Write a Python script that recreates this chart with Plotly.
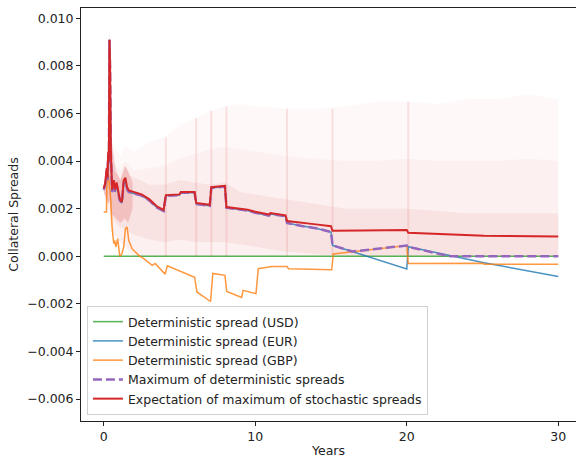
import plotly.graph_objects as go

# ---------------- data ----------------
years_usd = [0, 30]
usd_spread = [0.0, 0.0]

red_x = [0, 0.1, 0.2, 0.25, 0.3, 0.34, 0.38, 0.42, 0.47, 0.55, 0.66, 0.75, 0.85, 0.95,
         1.06, 1.2, 1.32, 1.43, 1.54, 1.65, 2.0, 2.5, 3.0, 3.5, 3.95, 4.1, 5.0, 5.1,
         6.0, 6.1, 7.0, 7.1, 8.0, 8.1, 9.0, 9.5, 10.0, 10.9, 11.0, 11.6, 12.0, 12.1,
         13.0, 14.0, 15.0, 15.1, 17.0, 20.0, 20.1, 25.0, 25.1, 30.0]
red_y = [0.00285, 0.0031, 0.0037, 0.0033, 0.0044, 0.0040, 0.0091, 0.0080, 0.0045, 0.0028,
         0.0032, 0.0028, 0.0031, 0.0027, 0.0024, 0.00228, 0.0032, 0.0033, 0.0029, 0.00277,
         0.0027, 0.0026, 0.0024, 0.0021, 0.00195, 0.00257, 0.0026, 0.0027, 0.0027, 0.00224,
         0.00216, 0.0029, 0.00296, 0.00207, 0.0020, 0.00196, 0.00187, 0.00176, 0.00182,
         0.00177, 0.00172, 0.00148, 0.0014, 0.00134, 0.00126, 0.00107, 0.00108, 0.0011,
         0.00099, 0.00088, 0.00086, 0.00083]

eur_x = [0, 0.1, 0.2, 0.25, 0.3, 0.34, 0.38, 0.42, 0.47, 0.55, 0.66, 0.75, 0.85, 0.95,
         1.06, 1.2, 1.32, 1.43, 1.54, 1.65, 2.0, 2.5, 3.0, 3.5, 3.95, 4.1, 5.0, 5.1,
         6.0, 6.1, 7.0, 7.1, 8.0, 8.1, 9.0, 9.5, 10.0, 10.9, 11.0, 11.6, 12.0, 12.1,
         13.0, 14.0, 15.0, 15.1, 20.0, 20.1, 25.0, 25.1, 30.0]
eur_y = [0.0028, 0.0030, 0.0036, 0.0032, 0.0043, 0.0039, 0.0091, 0.0079, 0.0044, 0.0027,
         0.0031, 0.0027, 0.0030, 0.0026, 0.00235, 0.00224, 0.0031, 0.0032, 0.0028, 0.0027,
         0.00265, 0.00255, 0.00235, 0.00205, 0.0019, 0.00254, 0.00257, 0.00267, 0.00267,
         0.0022, 0.00212, 0.00287, 0.00293, 0.00204, 0.00196, 0.00192, 0.00183, 0.00171,
         0.00178, 0.00173, 0.00168, 0.0014, 0.00128, 0.00118, 0.00102, 0.00046, -0.00053,
         0.0004, -0.00023, -0.00027, -0.00085]

gbp_x = [0, 0.18, 0.2, 0.25, 0.32, 0.44, 0.55, 0.66, 0.72, 0.8, 0.92, 1.06, 1.2, 1.32,
         1.43, 1.54, 1.65, 1.87, 2.09, 2.31, 2.64, 3.0, 3.2, 3.4, 3.7, 4.05, 4.2, 5.0,
         6.0, 6.15, 7.05, 7.2, 8.0, 8.12, 9.1, 9.2, 10.05, 10.2, 11.1, 12.1, 12.2,
         15.05, 15.15, 20.0, 20.1, 25.0, 25.1, 30.0]
gbp_y = [0.00186, 0.00186, 0.0028, 0.0036, 0.0033, 0.0026, 0.00123, 0.00053, 0.00067,
         0.00039, 0.00074, 0.0, 0.0001, 0.00039, 0.00116, 0.00123, 0.00067, 0.00032,
         0.00018, 0.00004, -0.0001, -0.0003, -0.00038, -0.0003, -0.0005, -0.00075,
         -0.0004, -0.0006, -0.00088, -0.0015, -0.0019, -0.00072, -0.0008, -0.00148,
         -0.00173, -0.00143, -0.00157, -0.00052, -0.00043, -0.00043, -0.00052, -0.00057,
         0.0001, 0.00045, -0.0003, -0.00029, -0.00033, -0.00034]

max_x = [0, 0.1, 0.2, 0.25, 0.3, 0.34, 0.38, 0.42, 0.47, 0.55, 0.66, 0.75, 0.85, 0.95,
         1.06, 1.2, 1.32, 1.43, 1.54, 1.65, 2.0, 2.5, 3.0, 3.5, 3.95, 4.1, 5.0, 5.1,
         6.0, 6.1, 7.0, 7.1, 8.0, 8.1, 9.0, 9.5, 10.0, 10.9, 11.0, 11.6, 12.0, 12.1,
         13.0, 14.0, 15.0, 15.1, 16.4, 20.0, 20.1, 22.8, 30.0]
max_y = [0.0028, 0.0030, 0.0036, 0.0032, 0.0043, 0.0039, 0.0091, 0.0079, 0.0044, 0.0027,
         0.0031, 0.0027, 0.0030, 0.0026, 0.00235, 0.00224, 0.0031, 0.0032, 0.0028, 0.0027,
         0.00265, 0.00255, 0.00235, 0.00205, 0.0019, 0.00254, 0.00257, 0.00267, 0.00267,
         0.0022, 0.00212, 0.00287, 0.00293, 0.00204, 0.00196, 0.00192, 0.00183, 0.00171,
         0.00178, 0.00173, 0.00168, 0.0014, 0.00128, 0.00118, 0.00102, 0.00046, 0.0002,
         0.00045, 0.0004, 0.0, 0.0]

# envelope of the simulated (stochastic) spread paths
cloud_x = [0, 0.2, 0.3, 0.38, 0.45, 0.55, 0.8, 1.1, 1.4, 1.7, 2.0, 3.0, 4.0, 5.0, 6.0,
           7.0, 8.0, 9.0, 10.0, 12.0, 14.0, 16.0, 18.0, 20.0, 22.0, 24.0, 26.0, 28.0, 30.0]
cloud_hi = [0.0029, 0.0042, 0.0052, 0.0097, 0.0065, 0.0048, 0.0045, 0.0042, 0.0047, 0.0045,
            0.0044, 0.0048, 0.0050, 0.0055, 0.0058, 0.0061, 0.0063, 0.0064, 0.0063, 0.0062,
            0.0062, 0.0063, 0.0065, 0.0065, 0.0064, 0.0066, 0.0066, 0.0068, 0.0066]
cloud_mid = [0.0029, 0.0039, 0.0047, 0.0093, 0.0058, 0.0040, 0.0038, 0.0036, 0.0040, 0.0038,
             0.0036, 0.0037, 0.0038, 0.0041, 0.0043, 0.0045, 0.0046, 0.0045, 0.0044, 0.0042,
             0.0041, 0.0040, 0.0040, 0.0041, 0.0040, 0.0040, 0.0040, 0.0041, 0.0040]
cloud_lo = [0.0027, 0.0022, 0.0018, 0.0020, 0.0015, 0.0010, 0.0008, 0.0006, 0.0004, 0.0002,
            0.0, 0.0, 0.0, 0.0, 0.0, 0.0, 0.0, 0.0, 0.0, 0.0, 0.0, 0.0, 0.0, 0.0, 0.0, 0.0,
            0.0, 0.0, 0.0]
core_hi = [0.0029, 0.0040, 0.0048, 0.0094, 0.0060, 0.0036, 0.0035, 0.0032, 0.0038, 0.0034,
           0.0033, 0.0030, 0.0030, 0.0032, 0.0031, 0.0030, 0.0031, 0.0027, 0.0026, 0.0024,
           0.0022, 0.0020, 0.0020, 0.0020, 0.0019, 0.0018, 0.0018, 0.0018, 0.0018]
core_lo = [0.0027, 0.0024, 0.0022, 0.0024, 0.0020, 0.0016, 0.0014, 0.0012, 0.0012, 0.0010,
           0.0009, 0.0007, 0.0006, 0.0007, 0.0006, 0.0006, 0.0006, 0.0005, 0.0004, 0.0002,
           0.0001, 0.0, 0.0, 0.0, 0.0, 0.0, 0.0, 0.0, 0.0]
# dense bundle of paths during the first two years
early_x = [0, 0.2, 0.3, 0.36, 0.38, 0.42, 0.5, 0.8, 1.1, 1.4, 1.6, 1.9]
early_hi = [0.0029, 0.0040, 0.0046, 0.0088, 0.0095, 0.0085, 0.0050, 0.0036, 0.0032, 0.0038,
            0.0036, 0.0031]
early_lo = [0.0027, 0.0024, 0.0022, 0.0023, 0.0024, 0.0022, 0.0018, 0.0016, 0.0014, 0.0016,
            0.0014, 0.0020]
jump_years = [4.1, 6.1, 7.1, 8.1, 12.1, 15.1, 20.1]
jump_top = [0.0050, 0.0058, 0.0061, 0.0063, 0.0062, 0.0062, 0.0065]

y_ticks = [-0.006, -0.004, -0.002, 0.0, 0.002, 0.004, 0.006, 0.008, 0.010]
x_ticks = [0, 10, 20, 30]

# ---------------- figure ----------------
RED = "#d62728"
FS = 12.5
fig = go.Figure()

def band(xs, hi, lo, alpha):
    fig.add_trace(go.Scatter(
        x=xs + xs[::-1], y=hi + lo[::-1], fill="toself",
        fillcolor=f"rgba(214,39,40,{alpha})", line=dict(width=0),
        mode="lines", showlegend=False, hoverinfo="skip"))

band(cloud_x, cloud_hi, cloud_lo, 0.03)
band(cloud_x, cloud_mid, cloud_lo, 0.04)
band(cloud_x, core_hi, core_lo, 0.07)
band(early_x, early_hi, early_lo, 0.18)

sx, sy = [], []
for xv, top in zip(jump_years, jump_top):
    sx += [xv, xv, None]
    sy += [0.0, top, None]
fig.add_trace(go.Scatter(x=sx, y=sy, mode="lines",
                         line=dict(color="rgba(214,39,40,0.11)", width=2),
                         showlegend=False, hoverinfo="skip"))

fig.add_trace(go.Scatter(x=years_usd, y=usd_spread, mode="lines",
                         name="Deterministic spread (USD)",
                         line=dict(color="#2ca02c", width=1.5), opacity=0.8))
fig.add_trace(go.Scatter(x=eur_x, y=eur_y, mode="lines",
                         name="Deterministic spread (EUR)",
                         line=dict(color="#1f77b4", width=1.5), opacity=0.8))
fig.add_trace(go.Scatter(x=gbp_x, y=gbp_y, mode="lines",
                         name="Deterministic spread (GBP)",
                         line=dict(color="#ff7f0e", width=1.5), opacity=0.8))
fig.add_trace(go.Scatter(x=max_x, y=max_y, mode="lines",
                         name="Maximum of deterministic spreads",
                         line=dict(color="#9467bd", width=2.5, dash="9px,4px")))
fig.add_trace(go.Scatter(x=red_x, y=red_y, mode="lines",
                         name="Expectation of maximum of stochastic spreads",
                         line=dict(color=RED, width=2)))

axis_common = dict(showgrid=False, zeroline=False, ticks="outside", ticklen=4,
                   tickwidth=1, tickcolor="#222", showline=True, linecolor="#222",
                   linewidth=1, tickfont=dict(size=FS, color="#222"))

fig.update_layout(
    width=576, height=458,
    margin=dict(l=81, r=0, t=8, b=37),
    paper_bgcolor="white", plot_bgcolor="white",
    font=dict(family="DejaVu Sans", size=FS, color="#222"),
    xaxis=dict(range=[-1.5, 31.17], tickvals=x_ticks,
               ticktext=[str(v) for v in x_ticks], mirror=True,
               title=dict(text="Years", standoff=5, font=dict(size=FS)),
               automargin=False, **axis_common),
    yaxis=dict(range=[-0.00692, 0.01043], tickvals=y_ticks,
               ticktext=[f"{v:.3f}".replace("-", "\u2212") for v in y_ticks],
               title=dict(text="Collateral Spreads", standoff=5, font=dict(size=FS)),
               automargin=False, **axis_common),
    legend=dict(x=0.012, y=0.0145, xanchor="left", yanchor="bottom",
                bgcolor="rgba(255,255,255,0.8)", bordercolor="#d0d0d0",
                borderwidth=1, font=dict(size=FS, color="#222"),
                itemwidth=30, tracegroupgap=0),
    showlegend=True,
)

fig.write_html("out.html")
